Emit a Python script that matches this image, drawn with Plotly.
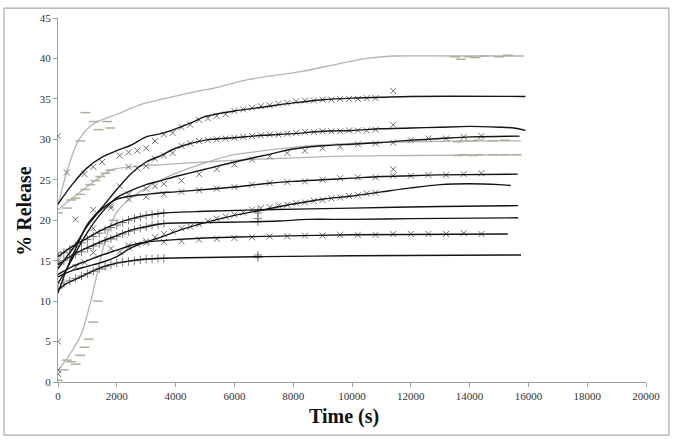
import plotly.graph_objects as go

# ---------------- fitted curves (black) ----------------
s1_t = [0, 500, 1000, 1500, 2000, 2500, 3000, 3500, 4000, 4500, 5000, 6000, 7000, 8000, 9000, 10000, 11000, 12000, 15900]
s1_y = [22.0, 24.5, 26.5, 27.8, 28.6, 29.3, 30.3, 30.7, 31.3, 32.0, 32.8, 33.5, 34.0, 34.5, 34.9, 35.1, 35.2, 35.3, 35.3]

s2_t = [0, 300, 600, 1000, 1500, 2000, 2500, 3000, 3500, 4000, 5000, 6000, 7000, 8000, 9000, 10000, 11000, 12000, 13000, 14000, 15000, 15500, 15900]
s2_y = [11.0, 14.0, 16.5, 19.5, 21.6, 23.8, 25.8, 27.2, 28.0, 28.9, 29.9, 30.2, 30.5, 30.7, 31.0, 31.1, 31.3, 31.4, 31.5, 31.6, 31.5, 31.4, 31.1]

s3_t = [0, 300, 600, 1000, 1500, 2000, 2500, 3000, 3500, 4000, 5000, 6000, 7000, 8000, 9000, 10000, 11000, 12000, 13000, 14000, 15700]
s3_y = [12.2, 14.0, 16.0, 18.5, 21.0, 22.8, 23.7, 24.4, 24.9, 25.4, 26.3, 27.2, 28.0, 28.8, 29.2, 29.4, 29.6, 29.9, 30.1, 30.3, 30.4]

s4_t = [0, 300, 600, 1000, 1500, 2000, 2500, 3000, 3500, 4000, 5000, 6000, 7000, 8000, 9000, 10000, 11000, 12000, 13000, 15640]
s4_y = [14.0, 15.5, 17.0, 19.3, 21.4, 22.6, 23.0, 23.2, 23.4, 23.5, 23.8, 24.1, 24.5, 24.8, 25.0, 25.2, 25.4, 25.5, 25.6, 25.7]

s5_t = [0, 500, 1000, 1500, 2000, 2500, 3000, 3500, 4000, 5000, 6000, 7000, 8000, 9000, 10000, 11000, 12000, 13000, 14000, 15000, 15400]
s5_y = [13.0, 13.8, 14.3, 14.8, 15.5, 16.6, 17.3, 17.9, 18.6, 19.7, 20.6, 21.3, 22.0, 22.6, 23.0, 23.5, 24.0, 24.4, 24.5, 24.4, 24.3]

s6_t = [0, 500, 1000, 1500, 2000, 2500, 3000, 4000, 5000, 7000, 10000, 15300]
s6_y = [13.3, 14.3, 15.0, 15.7, 16.3, 16.9, 17.3, 17.6, 17.8, 18.0, 18.2, 18.3]

la_t = [0, 500, 1000, 1500, 2000, 2500, 3000, 3600, 5000, 7000, 10000, 13000, 15650]
la_y = [15.5, 16.8, 17.8, 18.8, 19.6, 20.2, 20.6, 20.9, 21.1, 21.3, 21.5, 21.7, 21.8]

lb_t = [0, 500, 1000, 1500, 2000, 2500, 3000, 3600, 5000, 6500, 7500, 8500, 10000, 12000, 15650]
lb_y = [14.5, 15.7, 16.6, 17.4, 18.1, 18.8, 19.2, 19.6, 19.7, 19.8, 19.9, 20.1, 20.1, 20.2, 20.3]

lc_t = [0, 300, 600, 1000, 1500, 2000, 2500, 3000, 3600, 5000, 7000, 10000, 15750]
lc_y = [11.4, 12.2, 12.7, 13.4, 14.2, 14.7, 15.0, 15.2, 15.3, 15.4, 15.5, 15.6, 15.7]

# ---------------- fitted curves (grey) ----------------
g1_t = [0, 300, 700, 1200, 2000, 2900, 4300, 5500, 6500, 8300, 9500, 10500, 11400, 13400, 15850]
g1_y = [21.8, 26.0, 29.9, 31.9, 33.1, 34.4, 35.6, 36.5, 37.4, 38.4, 39.3, 40.0, 40.3, 40.3, 40.3]

g2_t = [0, 300, 800, 1300, 1800, 2500, 3700, 5000, 6500, 8000, 9300, 12000, 15750]
g2_y = [21.3, 22.2, 23.6, 25.0, 26.2, 26.6, 26.9, 27.2, 27.5, 27.7, 27.9, 28.0, 28.1]

g3_t = [0, 400, 800, 1000, 1200, 1400, 1600, 1800, 2000, 2500, 3000, 3500, 4000, 5000, 6000, 7000, 8000, 9000, 10000, 12000, 14000, 15750]
g3_y = [1.4, 3.4, 6.0, 8.4, 11.3, 14.5, 17.4, 19.5, 21.0, 22.8, 24.0, 25.0, 25.8, 27.1, 28.1, 28.6, 29.0, 29.3, 29.5, 29.7, 29.8, 29.8]

# ---------------- measured points: x markers ----------------
m1_t = [0, 300, 900, 1200, 1500, 2100, 2400, 2700, 3000, 3300, 3600, 3900, 4200, 4500, 4800, 5100, 5400, 5700, 6000, 6300, 6600, 6900, 7200, 7500, 7800, 8100, 8400, 8700, 9000, 9300, 9600, 9900, 10200, 10500, 10800, 11400]
m1_y = [30.4, 25.9, 25.7, 26.6, 27.2, 28.0, 28.4, 28.6, 28.9, 29.8, 30.6, 30.8, 31.5, 31.8, 32.4, 32.6, 32.9, 33.1, 33.5, 33.7, 33.9, 34.1, 34.2, 34.4, 34.5, 34.7, 34.8, 34.8, 34.9, 34.9, 35.0, 35.0, 35.0, 35.1, 35.1, 36.0]

m2_t = [2100, 2400, 2700, 3000, 3300, 3600, 3900, 4200, 4500, 4800, 5100, 5400, 5700, 6000, 6300, 6600, 6900, 7200, 7500, 7800, 8100, 8400, 8700, 9000, 9300, 9600, 9900, 10200, 10500, 10800, 11400]
m2_y = [24.2, 26.6, 26.4, 26.7, 27.6, 28.0, 28.3, 29.2, 29.5, 29.8, 29.9, 30.0, 30.1, 30.2, 30.3, 30.4, 30.5, 30.6, 30.6, 30.7, 30.8, 30.9, 30.9, 31.0, 31.0, 31.0, 31.1, 31.1, 31.1, 31.2, 31.8]

m3_t = [1200, 1800, 2400, 3000, 3300, 3600, 4200, 4800, 5400, 6000, 6600, 7200, 7800, 8400, 9000, 9600, 10200, 10800, 11400, 12000, 12600, 13200, 13800, 14400]
m3_y = [19.0, 21.5, 23.2, 23.9, 24.2, 24.5, 24.9, 25.7, 26.3, 26.9, 27.5, 27.9, 28.3, 28.6, 28.9, 29.1, 29.4, 29.5, 29.6, 29.9, 30.1, 30.1, 30.3, 30.4]

m4_t = [0, 600, 1200, 1800, 2400, 3000, 3600, 4200, 4800, 5400, 6000, 6600, 7200, 7800, 8400, 9000, 9600, 10200, 10800, 11400, 11400, 12000, 12600, 13200, 13800, 14400]
m4_y = [15.8, 20.1, 21.3, 21.8, 22.6, 22.9, 23.2, 23.5, 23.7, 23.9, 24.1, 24.4, 24.6, 24.7, 24.8, 25.0, 25.2, 25.3, 25.3, 25.5, 26.3, 25.5, 25.6, 25.6, 25.7, 25.8]

m5_t = [0, 1800, 2100, 2400, 2700, 3000, 3300, 3600, 3900, 4200, 4500, 4800, 5100, 5400, 5700, 6000, 6300, 6600, 6900, 7200, 7500, 7800, 8100, 8400, 8700, 9000, 9300, 9600, 9900, 10200, 10500, 10800]
m5_y = [15.0, 16.5, 16.1, 16.9, 17.0, 17.4, 17.9, 18.3, 18.6, 19.0, 19.2, 19.5, 19.9, 20.2, 20.45, 20.7, 20.95, 21.3, 21.5, 21.6, 21.8, 21.9, 22.1, 22.2, 22.4, 22.5, 22.7, 22.8, 23.0, 23.1, 23.3, 23.4]

m6_t = [0, 0, 0, 0, 600, 900, 1200, 2400, 3000, 3600, 4200, 4800, 5400, 6000, 6600, 7200, 7800, 8400, 9000, 9600, 10200, 10800, 11400, 12000, 12600, 13200, 13800, 14400]
m6_y = [14.7, 5.0, 1.5, 1.0, 14.2, 14.8, 16.0, 16.6, 17.2, 17.3, 17.4, 17.6, 17.7, 17.8, 17.9, 18.0, 18.0, 18.1, 18.1, 18.2, 18.2, 18.2, 18.3, 18.3, 18.3, 18.3, 18.4, 18.3]

# ---------------- measured points: + markers ----------------
p_t = [0, 200, 400, 600, 800, 1000, 1200, 1400, 1600, 1800, 2000, 2200, 2400, 2600, 2800, 3000, 3200, 3400, 3600, 6800, 6800]
pa_y = [15.6, 16.0, 16.4, 16.8, 17.2, 17.6, 18.0, 18.4, 18.8, 19.1, 19.4, 19.7, 20.0, 20.2, 20.4, 20.6, 20.7, 20.8, 20.9, 20.9, 21.2]
pb_y = [14.6, 15.0, 15.4, 15.8, 16.1, 16.5, 16.8, 17.1, 17.4, 17.7, 18.0, 18.3, 18.6, 18.8, 19.0, 19.2, 19.4, 19.5, 19.6, 19.8, 20.2]
pc_y = [11.6, 12.2, 12.5, 12.8, 13.1, 13.4, 13.7, 14.0, 14.3, 14.5, 14.7, 14.8, 14.9, 15.0, 15.1, 15.2, 15.2, 15.3, 15.3, 15.4, 15.7]

# ---------------- measured points: dash markers ----------------
d1_t = [760, 930, 1210, 1380, 1670, 1780, 13500, 13700, 14000, 14200, 14500, 15000, 15300]
d1_y = [29.8, 33.3, 32.2, 31.2, 32.2, 31.4, 40.2, 39.9, 40.2, 40.1, 40.3, 40.2, 40.4]
d2_t = [0, 300, 450, 600, 760, 930, 1100, 1270, 1440, 1610, 1780, 13600, 13800, 14100, 14300, 14800, 15200, 15600]
d2_y = [20.9, 21.5, 22.5, 22.7, 23.2, 23.8, 24.4, 24.9, 25.4, 25.8, 26.2, 28.0, 28.1, 28.0, 28.1, 28.1, 28.1, 28.1]
d3_t = [0, 200, 300, 450, 600, 750, 900, 1050, 1200, 1350, 1500, 1800, 1900, 13600, 13800, 14100, 14300, 14800, 15200]
d3_y = [0.2, 1.5, 2.7, 2.5, 2.2, 3.3, 4.3, 5.3, 7.4, 10.0, 14.0, 17.7, 20.0, 29.7, 29.8, 29.8, 29.9, 29.8, 29.9]

x_ticks = [0, 2000, 4000, 6000, 8000, 10000, 12000, 14000, 16000, 18000, 20000]
y_ticks = [0, 5, 10, 15, 20, 25, 30, 35, 40, 45]

black_lines = [(s1_t, s1_y), (s2_t, s2_y), (s3_t, s3_y), (s4_t, s4_y), (s5_t, s5_y),
               (s6_t, s6_y), (la_t, la_y), (lb_t, lb_y), (lc_t, lc_y)]
grey_lines = [(g1_t, g1_y), (g2_t, g2_y), (g3_t, g3_y)]
x_sets = [(m1_t, m1_y), (m2_t, m2_y), (m3_t, m3_y), (m4_t, m4_y), (m5_t, m5_y), (m6_t, m6_y)]
plus_sets = [(p_t, pa_y), (p_t, pb_y), (p_t, pc_y)]
dash_sets = [(d1_t, d1_y), (d2_t, d2_y), (d3_t, d3_y)]

fig = go.Figure()
for t, y in grey_lines:
    fig.add_trace(go.Scatter(x=t, y=y, mode="lines", line=dict(color="#b4b4b4", width=1.3, shape="spline", smoothing=0.8)))
for t, y in dash_sets:
    fig.add_trace(go.Scatter(x=t, y=y, mode="markers",
                             marker=dict(symbol="line-ew-open", size=7, color="#a9b39a", line=dict(color="#a9b39a", width=1.5))))
for t, y in x_sets:
    fig.add_trace(go.Scatter(x=t, y=y, mode="markers",
                             marker=dict(symbol="x-thin-open", size=6, color="#707070", line=dict(color="#707070", width=1))))
for t, y in plus_sets:
    fig.add_trace(go.Scatter(x=t, y=y, mode="markers",
                             marker=dict(symbol="cross-thin-open", size=6, color="#7a7a7a", line=dict(color="#7a7a7a", width=1))))
for t, y in black_lines:
    fig.add_trace(go.Scatter(x=t, y=y, mode="lines", line=dict(color="#151515", width=1.4, shape="spline", smoothing=0.8)))

serif = "Liberation Serif, Times New Roman, serif"
axis_font = dict(family=serif, size=11, color="#333333")
fig.update_layout(
    width=673, height=440,
    margin=dict(l=58, r=27, t=13, b=58),
    paper_bgcolor="white", plot_bgcolor="white",
    showlegend=False,
    xaxis=dict(range=[0, 20000], tickvals=x_ticks, ticktext=[str(v) for v in x_ticks],
               showgrid=False, zeroline=False, showline=True, linecolor="#a0a0a0", linewidth=1,
               ticks="outside", ticklen=4, tickcolor="#a0a0a0", tickfont=axis_font),
    yaxis=dict(range=[0, 45], tickvals=y_ticks, ticktext=[str(v) for v in y_ticks],
               showgrid=False, zeroline=False, showline=True, linecolor="#a0a0a0", linewidth=1,
               ticks="outside", ticklen=4, tickcolor="#a0a0a0", tickfont=axis_font),
    annotations=[
        dict(text="<b>Time (s)</b>", xref="paper", yref="paper", x=0.487, y=-0.058, xanchor="center", yanchor="top",
             showarrow=False, font=dict(family=serif, size=20, color="#111")),
        dict(text="<b>% Release</b>", xref="paper", yref="paper", x=-0.036, y=0.47, xanchor="right", yanchor="middle",
             textangle=-90, showarrow=False, font=dict(family=serif, size=20, color="#111")),
    ],
    shapes=[dict(type="rect", xref="paper", yref="paper", x0=-0.0918, x1=1.039, y0=-0.146, y1=1.027,
                 line=dict(color="#a8a8a8", width=1.2), fillcolor="rgba(0,0,0,0)")],
)
fig.write_html("out.html", config={"displayModeBar": False},
               post_script="document.body.style.margin='0';document.body.style.overflow='hidden';")
